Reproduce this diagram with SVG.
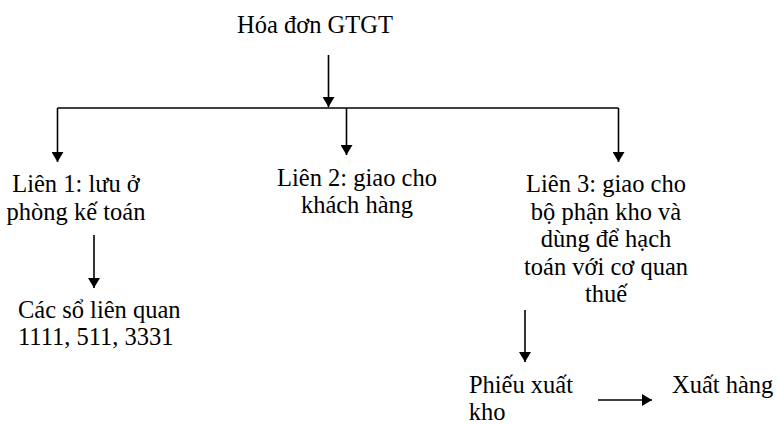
<svg xmlns="http://www.w3.org/2000/svg" width="780" height="424" viewBox="0 0 780 424">
<style>
text{font-family:"Liberation Serif","Times New Roman",serif;font-size:24.5px;fill:#000}
.c{text-anchor:middle}
.ln{stroke:#000;stroke-width:1.6;fill:none}
</style>
<defs>
<marker id="ah" markerWidth="10" markerHeight="12" refX="10" refY="6" orient="auto" markerUnits="userSpaceOnUse">
<path d="M0,0 L10,6 L0,12 Z" fill="#000"/>
</marker>
</defs>
<rect width="780" height="424" fill="#fff"/>
<g id="connectors">
<line class="ln" x1="328.5" y1="55" x2="328.5" y2="107" marker-end="url(#ah)"/>
<line class="ln" x1="57.5" y1="108" x2="618.5" y2="108"/>
<line class="ln" x1="57.5" y1="108" x2="57.5" y2="162" marker-end="url(#ah)"/>
<line class="ln" x1="346.5" y1="108" x2="346.5" y2="155" marker-end="url(#ah)"/>
<line class="ln" x1="618.5" y1="108" x2="618.5" y2="162" marker-end="url(#ah)"/>
<line class="ln" x1="94" y1="235" x2="94" y2="288" marker-end="url(#ah)"/>
<line class="ln" x1="525" y1="310" x2="525" y2="362" marker-end="url(#ah)"/>
<line class="ln" x1="598" y1="400" x2="652" y2="400" marker-end="url(#ah)"/>
</g>
<g id="title"><text class="c" x="315" y="33" font-size="25">Hóa đơn GTGT</text></g>
<g id="lien1"><text class="c" x="76" y="192">Liên 1: lưu ở</text><text class="c" x="76" y="220">phòng kế toán</text></g>
<g id="lien2"><text class="c" x="357" y="186">Liên 2: giao cho</text><text class="c" x="357" y="213">khách hàng</text></g>
<g id="lien3"><text class="c" x="606" y="192">Liên 3: giao cho</text><text class="c" x="606" y="220">bộ phận kho và</text><text class="c" x="606" y="247">dùng để hạch</text><text class="c" x="606" y="275">toán với cơ quan</text><text class="c" x="606" y="302">thuế</text></g>
<g id="cacso"><text x="18" y="318">Các sổ liên quan</text><text x="18" y="345">1111, 511, 3331</text></g>
<g id="phieu"><text class="c" x="521" y="393">Phiếu xuất</text><text class="c" x="487" y="420">kho</text></g>
<g id="xuathang"><text x="672" y="393">Xuất hàng</text></g>
</svg>
